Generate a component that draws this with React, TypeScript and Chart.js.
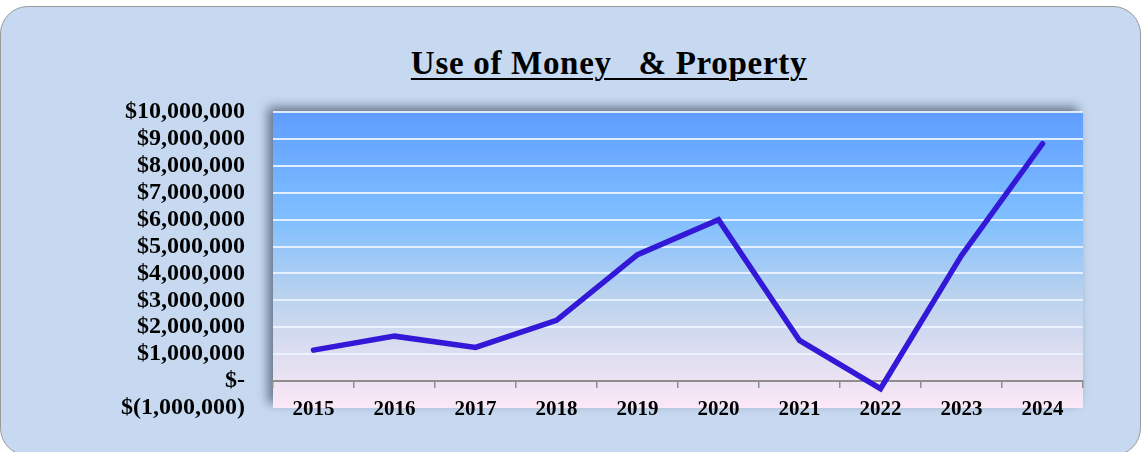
import React, { useEffect, useRef } from "react";
import { Chart, registerables } from "chart.js";

Chart.register(...registerables);

const years = ["2015", "2016", "2017", "2018", "2019", "2020", "2021", "2022", "2023", "2024"];
const useOfMoney = [1150000, 1670000, 1250000, 2260000, 4700000, 6000000, 1510000, -280000, 4670000, 8820000];
const yMin = -1000000;
const yMax = 10000000;
const yStep = 1000000;
const titleText = "Use of Money   & Property";

function fmtMoney(v: number): string {
  if (v === 0) return "$-";
  const s = Math.abs(v).toLocaleString("en-US");
  return v < 0 ? "$(" + s + ")" : "$" + s;
}

const plotBg = {
  id: "plotBg",
  beforeDraw(chart: any) {
    const { ctx, chartArea } = chart;
    const { left, top, right, bottom } = chartArea;
    const g = ctx.createLinearGradient(0, top, 0, bottom);
    g.addColorStop(0, "#5F9EFF");
    g.addColorStop(0.36, "#80BFFF");
    g.addColorStop(0.62, "#BAD2EE");
    g.addColorStop(0.82, "#DEDEF0");
    g.addColorStop(1, "#FCE8F7");
    ctx.save();
    ctx.shadowColor = "rgba(50,60,80,0.65)";
    ctx.shadowBlur = 10;
    ctx.shadowOffsetX = -5;
    ctx.shadowOffsetY = -5;
    ctx.fillStyle = g;
    ctx.fillRect(left, top, right - left, bottom - top);
    ctx.restore();
  },
};

export default function App() {
  const ref = useRef<HTMLCanvasElement | null>(null);
  useEffect(() => {
    if (!ref.current) return;
    const chart = new Chart(ref.current, {
      type: "line",
      data: {
        labels: years,
        datasets: [
          {
            data: useOfMoney,
            borderColor: "#3318D8",
            borderWidth: 5.5,
            borderCapStyle: "round",
            borderJoinStyle: "miter",
            pointRadius: 0,
            tension: 0,
          },
        ],
      },
      options: {
        animation: false,
        responsive: false,
        layout: { padding: { left: 0, top: 112, right: 61, bottom: 44 } },
        plugins: { legend: { display: false }, title: { display: false }, tooltip: { enabled: false } },
        scales: {
          x: {
            type: "category",
            position: { y: 0 } as any,
            offset: true,
            grid: {
              offset: true,
              drawOnChartArea: false,
              drawTicks: true,
              tickLength: 6,
              color: "#8E8E8E",
              lineWidth: 1.5,
            },
            border: { display: true, color: "#8E8E8E", width: 2 },
            ticks: {
              color: "#000",
              padding: 12,
              maxRotation: 0,
              font: { family: "'Liberation Serif', serif", size: 21, weight: "bold", lineHeight: 1 },
            },
          },
          y: {
            min: yMin,
            max: yMax,
            afterFit(scale: any) {
              scale.width = 273;
            },
            grid: {
              drawTicks: false,
              lineWidth: 2,
              color: (c: any) => (c.tick && c.tick.value === yMin ? "rgba(0,0,0,0)" : "rgba(236,244,255,0.9)"),
            },
            border: { display: false },
            ticks: {
              stepSize: yStep,
              autoSkip: false,
              padding: 28,
              color: "#000",
              font: { family: "'Liberation Serif', serif", size: 24, weight: "bold", lineHeight: 1 },
              callback: (v: any) => fmtMoney(Number(v)),
            },
          },
        },
      },
      plugins: [plotBg],
    });
    return () => chart.destroy();
  }, []);

  return (
    <div style={{ position: "fixed", left: 0, top: 0, width: 1144, height: 452, overflow: "hidden", background: "#fff" }}>
      <div
        style={{
          position: "absolute",
          left: 0,
          top: 6,
          width: 1141,
          height: 450,
          boxSizing: "border-box",
          background: "#C6D9F0",
          border: "1px solid #9A9A9A",
          borderRadius: 28,
        }}
      />
      <div
        style={{
          position: "absolute",
          left: 0,
          width: 1218,
          top: 45,
          textAlign: "center",
          fontFamily: "'Liberation Serif', serif",
          fontWeight: "bold",
          fontSize: 33,
          letterSpacing: 0.7,
          whiteSpace: "pre",
          color: "#000",
          lineHeight: "36px",
        }}
      >
        <span style={{ textDecoration: "underline", textDecorationThickness: 2, textUnderlineOffset: 4 }}>{titleText}</span>
      </div>
      <canvas ref={ref} width={1144} height={452} style={{ position: "absolute", left: 0, top: 0 }} />
    </div>
  );
}
